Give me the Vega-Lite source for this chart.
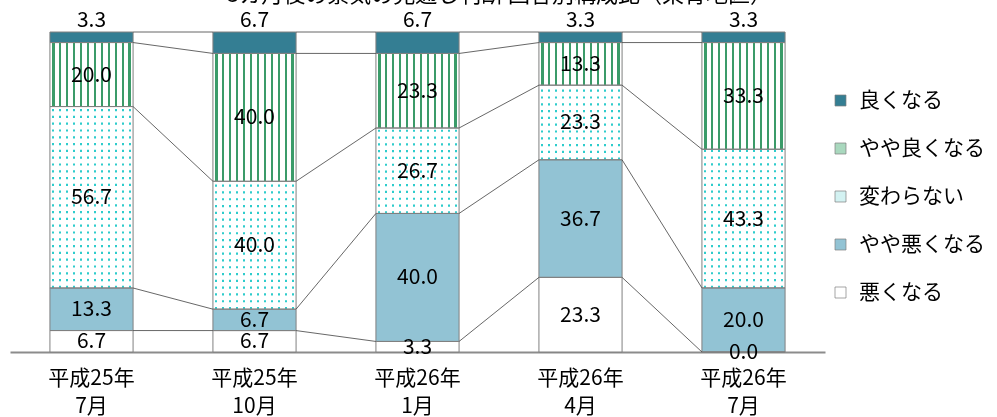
{
  "$schema": "https://vega.github.io/schema/vega-lite/v6.json",
  "width": 815,
  "height": 320,
  "autosize": {"type": "none"},
  "padding": {"left": 10, "top": 32, "right": 172, "bottom": 65},
  "background": "white",
  "title": {
    "text": "3カ月後の景気の見通し判断 回答別構成比（東青地区）",
    "font": "Noto Sans CJK JP",
    "fontSize": 22,
    "fontWeight": "normal",
    "color": "#000000",
    "anchor": "middle",
    "baseline": "alphabetic",
    "offset": 0,
    "dx": 82,
    "dy": 14
  },
  "data": {
    "values": [
      {"period": "平成25年 7月", "category": "悪くなる", "value": 6.7},
      {"period": "平成25年 7月", "category": "やや悪くなる", "value": 13.3},
      {"period": "平成25年 7月", "category": "変わらない", "value": 56.7},
      {"period": "平成25年 7月", "category": "やや良くなる", "value": 20.0},
      {"period": "平成25年 7月", "category": "良くなる", "value": 3.3},
      {"period": "平成25年 10月", "category": "悪くなる", "value": 6.7},
      {"period": "平成25年 10月", "category": "やや悪くなる", "value": 6.7},
      {"period": "平成25年 10月", "category": "変わらない", "value": 40.0},
      {"period": "平成25年 10月", "category": "やや良くなる", "value": 40.0},
      {"period": "平成25年 10月", "category": "良くなる", "value": 6.7},
      {"period": "平成26年 1月", "category": "悪くなる", "value": 3.3},
      {"period": "平成26年 1月", "category": "やや悪くなる", "value": 40.0},
      {"period": "平成26年 1月", "category": "変わらない", "value": 26.7},
      {"period": "平成26年 1月", "category": "やや良くなる", "value": 23.3},
      {"period": "平成26年 1月", "category": "良くなる", "value": 6.7},
      {"period": "平成26年 4月", "category": "悪くなる", "value": 23.3},
      {"period": "平成26年 4月", "category": "やや悪くなる", "value": 36.7},
      {"period": "平成26年 4月", "category": "変わらない", "value": 23.3},
      {"period": "平成26年 4月", "category": "やや良くなる", "value": 13.3},
      {"period": "平成26年 4月", "category": "良くなる", "value": 3.3},
      {"period": "平成26年 7月", "category": "悪くなる", "value": 0.0},
      {"period": "平成26年 7月", "category": "やや悪くなる", "value": 20.0},
      {"period": "平成26年 7月", "category": "変わらない", "value": 43.3},
      {"period": "平成26年 7月", "category": "やや良くなる", "value": 33.3},
      {"period": "平成26年 7月", "category": "良くなる", "value": 3.3}
    ]
  },
  "transform": [
    {"stack": "value", "groupby": ["period"], "as": ["y0", "y1"], "offset": "normalize"},
    {"window": [{"op": "lead", "field": "y1", "as": "ny1"}, {"op": "lead", "field": "period", "as": "nperiod"}], "groupby": ["category"]},
    {"calculate": "(datum.y0 + datum.y1) / 2", "as": "ymid"}
  ],
  "encoding": {
    "x": {
      "field": "period",
      "type": "ordinal",
      "scale": {
        "domain": ["平成25年 7月", "平成25年 10月", "平成26年 1月", "平成26年 4月", "平成26年 7月"],
        "paddingInner": 0.49,
        "paddingOuter": 0.245
      },
      "axis": {
        "title": null,
        "labelAngle": 0,
        "ticks": false,
        "grid": false,
        "domainColor": "#8c8c8c",
        "domainWidth": 2,
        "labelFont": "Noto Sans CJK JP",
        "labelFontSize": 21,
        "labelColor": "#000000",
        "labelPadding": 15,
        "labelLineHeight": 28,
        "labelExpr": "split(datum.label, ' ')"
      }
    }
  },
  "layer": [
    {
      "mark": {"type": "bar"},
      "encoding": {
        "y": {"field": "y0", "type": "quantitative", "scale": {"domain": [0, 1], "nice": false}, "axis": null},
        "y2": {"field": "y1"},
        "color": {
          "field": "category",
          "type": "nominal",
          "scale": {
            "domain": ["良くなる", "やや良くなる", "変わらない", "やや悪くなる", "悪くなる"],
            "range": ["#347e93", "#a9d8be", "#d3f2f2", "#92c3d4", "#ffffff"]
          },
          "legend": {
            "orient": "none",
            "legendX": 820,
            "legendY": 58,
            "title": null,
            "padding": 0,
            "symbolType": "square",
            "symbolSize": 121,
            "symbolStrokeColor": "#808080",
            "symbolStrokeWidth": 0.7,
            "labelFont": "Noto Sans CJK JP",
            "labelFontSize": 21,
            "labelColor": "#000000",
            "labelOffset": 8,
            "rowPadding": 26
          }
        }
      }
    },
    {
      "transform": [{"filter": "datum.category === 'やや良くなる'"}],
      "mark": {
        "type": "bar",
        "color": {"gradient": "linear", "x1": 0, "y1": 0, "x2": 1, "y2": 0, "stops": [
          {"offset": 0, "color": "#ffffff"},
          {"offset": 0.0277, "color": "#ffffff"}, {"offset": 0.0277, "color": "#3b9b69"}, {"offset": 0.0557, "color": "#3b9b69"}, {"offset": 0.0557, "color": "#ffffff"},
          {"offset": 0.111, "color": "#ffffff"}, {"offset": 0.111, "color": "#3b9b69"}, {"offset": 0.139, "color": "#3b9b69"}, {"offset": 0.139, "color": "#ffffff"},
          {"offset": 0.1943, "color": "#ffffff"}, {"offset": 0.1943, "color": "#3b9b69"}, {"offset": 0.2223, "color": "#3b9b69"}, {"offset": 0.2223, "color": "#ffffff"},
          {"offset": 0.2777, "color": "#ffffff"}, {"offset": 0.2777, "color": "#3b9b69"}, {"offset": 0.3057, "color": "#3b9b69"}, {"offset": 0.3057, "color": "#ffffff"},
          {"offset": 0.361, "color": "#ffffff"}, {"offset": 0.361, "color": "#3b9b69"}, {"offset": 0.389, "color": "#3b9b69"}, {"offset": 0.389, "color": "#ffffff"},
          {"offset": 0.4443, "color": "#ffffff"}, {"offset": 0.4443, "color": "#3b9b69"}, {"offset": 0.4723, "color": "#3b9b69"}, {"offset": 0.4723, "color": "#ffffff"},
          {"offset": 0.5277, "color": "#ffffff"}, {"offset": 0.5277, "color": "#3b9b69"}, {"offset": 0.5557, "color": "#3b9b69"}, {"offset": 0.5557, "color": "#ffffff"},
          {"offset": 0.611, "color": "#ffffff"}, {"offset": 0.611, "color": "#3b9b69"}, {"offset": 0.639, "color": "#3b9b69"}, {"offset": 0.639, "color": "#ffffff"},
          {"offset": 0.6943, "color": "#ffffff"}, {"offset": 0.6943, "color": "#3b9b69"}, {"offset": 0.7223, "color": "#3b9b69"}, {"offset": 0.7223, "color": "#ffffff"},
          {"offset": 0.7777, "color": "#ffffff"}, {"offset": 0.7777, "color": "#3b9b69"}, {"offset": 0.8057, "color": "#3b9b69"}, {"offset": 0.8057, "color": "#ffffff"},
          {"offset": 0.861, "color": "#ffffff"}, {"offset": 0.861, "color": "#3b9b69"}, {"offset": 0.889, "color": "#3b9b69"}, {"offset": 0.889, "color": "#ffffff"},
          {"offset": 0.9443, "color": "#ffffff"}, {"offset": 0.9443, "color": "#3b9b69"}, {"offset": 0.9723, "color": "#3b9b69"}, {"offset": 0.9723, "color": "#ffffff"},
          {"offset": 1, "color": "#ffffff"}
        ]}
      },
      "encoding": {
        "y": {"field": "y0", "type": "quantitative", "axis": null},
        "y2": {"field": "y1"}
      }
    },
    {
      "transform": [{"filter": "datum.category === '変わらない'"}],
      "mark": {"type": "bar", "color": "#ffffff"},
      "encoding": {
        "y": {"field": "y0", "type": "quantitative", "axis": null},
        "y2": {"field": "y1"}
      }
    },
    {
      "transform": [{"filter": "datum.category === '変わらない'"}],
      "mark": {"type": "rule", "color": "#2ecccc", "strokeWidth": 83, "strokeDash": [2.2, 4.6]},
      "encoding": {
        "y": {"field": "y0", "type": "quantitative", "axis": null},
        "y2": {"field": "y1"}
      }
    },
    {
      "transform": [{"filter": "datum.category === '変わらない'"}],
      "mark": {
        "type": "bar",
        "blend": "lighten",
        "color": {"gradient": "linear", "x1": 0, "y1": 0, "x2": 1, "y2": 0, "stops": [
          {"offset": 0, "color": "#ffffff"},
          {"offset": 0.0297, "color": "#ffffff"}, {"offset": 0.0297, "color": "#2ecccc"}, {"offset": 0.0537, "color": "#2ecccc"}, {"offset": 0.0537, "color": "#ffffff"},
          {"offset": 0.113, "color": "#ffffff"}, {"offset": 0.113, "color": "#2ecccc"}, {"offset": 0.137, "color": "#2ecccc"}, {"offset": 0.137, "color": "#ffffff"},
          {"offset": 0.1963, "color": "#ffffff"}, {"offset": 0.1963, "color": "#2ecccc"}, {"offset": 0.2203, "color": "#2ecccc"}, {"offset": 0.2203, "color": "#ffffff"},
          {"offset": 0.2797, "color": "#ffffff"}, {"offset": 0.2797, "color": "#2ecccc"}, {"offset": 0.3037, "color": "#2ecccc"}, {"offset": 0.3037, "color": "#ffffff"},
          {"offset": 0.363, "color": "#ffffff"}, {"offset": 0.363, "color": "#2ecccc"}, {"offset": 0.387, "color": "#2ecccc"}, {"offset": 0.387, "color": "#ffffff"},
          {"offset": 0.4463, "color": "#ffffff"}, {"offset": 0.4463, "color": "#2ecccc"}, {"offset": 0.4703, "color": "#2ecccc"}, {"offset": 0.4703, "color": "#ffffff"},
          {"offset": 0.5297, "color": "#ffffff"}, {"offset": 0.5297, "color": "#2ecccc"}, {"offset": 0.5537, "color": "#2ecccc"}, {"offset": 0.5537, "color": "#ffffff"},
          {"offset": 0.613, "color": "#ffffff"}, {"offset": 0.613, "color": "#2ecccc"}, {"offset": 0.637, "color": "#2ecccc"}, {"offset": 0.637, "color": "#ffffff"},
          {"offset": 0.6963, "color": "#ffffff"}, {"offset": 0.6963, "color": "#2ecccc"}, {"offset": 0.7203, "color": "#2ecccc"}, {"offset": 0.7203, "color": "#ffffff"},
          {"offset": 0.7797, "color": "#ffffff"}, {"offset": 0.7797, "color": "#2ecccc"}, {"offset": 0.8037, "color": "#2ecccc"}, {"offset": 0.8037, "color": "#ffffff"},
          {"offset": 0.863, "color": "#ffffff"}, {"offset": 0.863, "color": "#2ecccc"}, {"offset": 0.887, "color": "#2ecccc"}, {"offset": 0.887, "color": "#ffffff"},
          {"offset": 0.9463, "color": "#ffffff"}, {"offset": 0.9463, "color": "#2ecccc"}, {"offset": 0.9703, "color": "#2ecccc"}, {"offset": 0.9703, "color": "#ffffff"},
          {"offset": 1, "color": "#ffffff"}
        ]}
      },
      "encoding": {
        "y": {"field": "y0", "type": "quantitative", "axis": null},
        "y2": {"field": "y1"}
      }
    },
    {
      "mark": {"type": "bar", "filled": false, "color": "#808080", "strokeWidth": 1},
      "encoding": {
        "y": {"field": "y0", "type": "quantitative", "axis": null},
        "y2": {"field": "y1"}
      }
    },
    {
      "transform": [{"filter": "datum.nperiod != null"}],
      "mark": {"type": "rule", "color": "#404040", "strokeWidth": 0.8},
      "encoding": {
        "x": {"field": "period", "type": "ordinal", "bandPosition": 1},
        "x2": {"field": "nperiod", "bandPosition": 0},
        "y": {"field": "y1", "type": "quantitative", "axis": null},
        "y2": {"field": "ny1"}
      }
    },
    {
      "transform": [{"filter": "datum.category !== '良くなる'"}],
      "mark": {"type": "text", "font": "Noto Sans CJK JP", "fontSize": 21, "color": "#000000", "dy": 1},
      "encoding": {
        "y": {"field": "ymid", "type": "quantitative", "axis": null},
        "text": {"field": "value", "type": "quantitative", "format": ".1f"}
      }
    },
    {
      "transform": [{"filter": "datum.category === '良くなる'"}],
      "mark": {"type": "text", "font": "Noto Sans CJK JP", "fontSize": 21, "color": "#000000", "dy": -11},
      "encoding": {
        "y": {"field": "y1", "type": "quantitative", "axis": null},
        "text": {"field": "value", "type": "quantitative", "format": ".1f"}
      }
    }
  ],
  "config": {
    "view": {"stroke": null}
  }
}
